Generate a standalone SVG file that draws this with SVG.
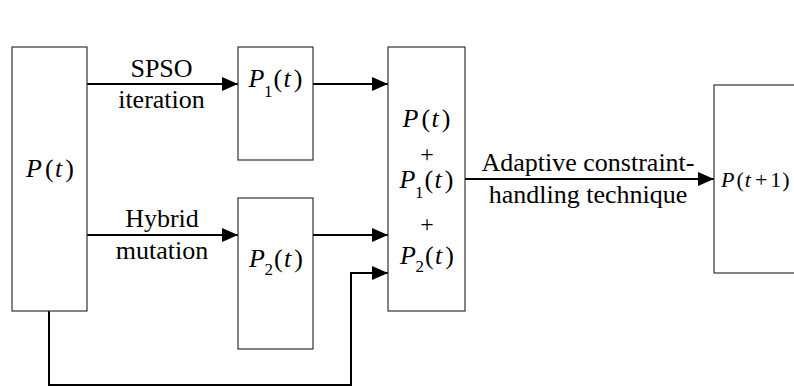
<svg xmlns="http://www.w3.org/2000/svg" width="794" height="387" viewBox="0 0 794 387">
  <style>
    .box { fill: #ffffff; stroke: #333333; stroke-width: 1.2; }
    .wire { fill: none; stroke: #000000; stroke-width: 2; }
    text { font-family: 'Liberation Serif', 'Times New Roman', serif; fill: #000000; }
    .lbl { font-size: 26px; text-anchor: middle; }
    .m { font-size: 26px; text-anchor: middle; }
    .plus { font-size: 24px; text-anchor: middle; }
    .i { font-style: italic; }
    .sub { font-size: 17px; }
  </style>
  <defs>
    <marker id="arrow" markerUnits="userSpaceOnUse" markerWidth="16" markerHeight="14" refX="16" refY="7" orient="auto">
      <path d="M0,0 L16,7 L0,14 Z" fill="#000000"/>
    </marker>
  </defs>

  <!-- connectors and their labels -->
  <g id="connectors">
    <line class="wire" x1="87" y1="84" x2="238" y2="84" marker-end="url(#arrow)"/>
    <line class="wire" x1="87" y1="235" x2="238" y2="235" marker-end="url(#arrow)"/>
    <line class="wire" x1="313" y1="84" x2="388" y2="84" marker-end="url(#arrow)"/>
    <line class="wire" x1="313" y1="235" x2="388" y2="235" marker-end="url(#arrow)"/>
    <polyline class="wire" points="49,311 49,385 351,385 351,273 388,273" marker-end="url(#arrow)"/>
    <line class="wire" x1="465" y1="179" x2="714" y2="179" marker-end="url(#arrow)"/>
    <text class="lbl" x="161.5" y="77">SPSO</text>
    <text class="lbl" x="161.5" y="108">iteration</text>
    <text class="lbl" x="162" y="227">Hybrid</text>
    <text class="lbl" x="162" y="259">mutation</text>
    <text class="lbl" x="588" y="171">Adaptive constraint-</text>
    <text class="lbl" x="588" y="203">handling technique</text>
  </g>

  <!-- population P(t) -->
  <g id="node-pt">
    <rect class="box" x="12" y="47" width="75" height="264"/>
    <text class="m" x="50" y="177"><tspan class="i">P</tspan><tspan dx="3">(</tspan><tspan class="i" dx="1.5">t</tspan><tspan dx="3">)</tspan></text>
  </g>

  <!-- offspring P1(t) -->
  <g id="node-p1">
    <rect class="box" x="238" y="47" width="75" height="113"/>
    <text class="m" x="275.5" y="87"><tspan class="i">P</tspan><tspan class="sub" dx="-0.5" dy="10">1</tspan><tspan dy="-10" dx="1">(</tspan><tspan class="i" dx="1.5">t</tspan><tspan dx="3">)</tspan></text>
  </g>

  <!-- offspring P2(t) -->
  <g id="node-p2">
    <rect class="box" x="238" y="198" width="75" height="151"/>
    <text class="m" x="276" y="267"><tspan class="i">P</tspan><tspan class="sub" dx="-0.5" dy="8">2</tspan><tspan dy="-8" dx="1">(</tspan><tspan class="i" dx="1.5">t</tspan><tspan dx="3">)</tspan></text>
  </g>

  <!-- merged population -->
  <g id="node-merge">
    <rect class="box" x="388" y="47" width="77" height="264"/>
    <text class="m" x="426.5" y="127"><tspan class="i">P</tspan><tspan dx="3">(</tspan><tspan class="i" dx="1.5">t</tspan><tspan dx="3">)</tspan></text>
    <text class="plus" x="427" y="162">+</text>
    <text class="m" x="426.5" y="188"><tspan class="i">P</tspan><tspan class="sub" dx="-0.5" dy="10">1</tspan><tspan dy="-10" dx="1">(</tspan><tspan class="i" dx="1.5">t</tspan><tspan dx="3">)</tspan></text>
    <text class="plus" x="427" y="232">+</text>
    <text class="m" x="427" y="264"><tspan class="i">P</tspan><tspan class="sub" dx="-0.5" dy="8">2</tspan><tspan dy="-8" dx="1">(</tspan><tspan class="i" dx="1.5">t</tspan><tspan dx="3">)</tspan></text>
  </g>

  <!-- next population P(t+1) -->
  <g id="node-next">
    <rect class="box" x="714" y="85" width="100" height="188"/>
    <text x="721" y="187" style="font-size:22px"><tspan class="i">P</tspan><tspan dx="2">(</tspan><tspan class="i" dx="1">t</tspan><tspan dx="4">+</tspan><tspan dx="3">1</tspan><tspan dx="1">)</tspan></text>
  </g>
</svg>
